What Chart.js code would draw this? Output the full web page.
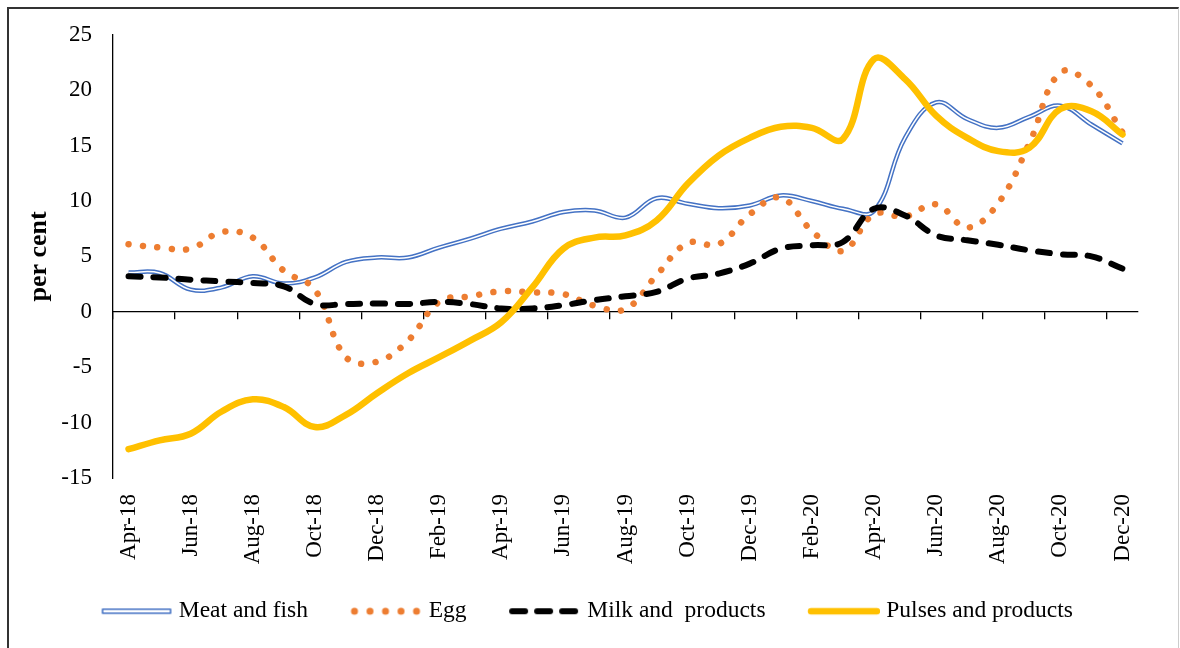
<!DOCTYPE html>
<html>
<head>
<meta charset="utf-8">
<script src="https://cdn.jsdelivr.net/npm/chart.js@4.4.1/dist/chart.umd.min.js"></script>
<style>
  body { margin: 0; background: #fff; overflow: hidden; }
  #wrap { position: relative; width: 1180px; height: 648px; }
  #frame { position: absolute; left: 7px; top: 7px; width: 1169px; height: 700px;
           border-top: 2px solid #333; border-left: 2px solid #333; border-right: 1px solid #ccc;
           pointer-events: none; }
</style>
</head>
<body>
<div id="wrap">
  <canvas id="chart" width="1180" height="648"></canvas>
  <div id="frame"></div>
</div>
<script>
const months = ['Apr-18','May-18','Jun-18','Jul-18','Aug-18','Sep-18','Oct-18','Nov-18','Dec-18',
  'Jan-19','Feb-19','Mar-19','Apr-19','May-19','Jun-19','Jul-19','Aug-19','Sep-19','Oct-19','Nov-19','Dec-19',
  'Jan-20','Feb-20','Mar-20','Apr-20','May-20','Jun-20','Jul-20','Aug-20','Sep-20','Oct-20','Nov-20','Dec-20'];

const meatFish = [3.55, 3.5, 2.0, 2.2, 3.2, 2.55, 3.1, 4.5, 4.9, 4.9, 5.8, 6.6, 7.5, 8.15, 9.0, 9.15, 8.5,
  10.25, 9.75, 9.35, 9.6, 10.5, 10.0, 9.3, 9.1, 15.7, 18.9, 17.4, 16.6, 17.6, 18.6, 16.9, 15.2];
const egg = [6.1, 5.8, 5.7, 7.2, 6.7, 3.7, 2.0, -4.1, -4.5, -2.6, 0.9, 1.4, 1.85, 1.75, 1.6, 0.55, 0.25,
  3.3, 6.2, 6.1, 8.8, 10.3, 7.3, 5.5, 8.8, 8.6, 9.7, 7.6, 9.8, 15.2, 21.6, 20.4, 16.2];
const milk = [3.2, 3.1, 2.9, 2.75, 2.6, 2.3, 0.7, 0.7, 0.75, 0.7, 0.9, 0.7, 0.3, 0.3, 0.6, 1.05, 1.4,
  1.8, 3.0, 3.45, 4.35, 5.7, 6.0, 6.3, 9.3, 8.7, 6.9, 6.45, 6.05, 5.55, 5.2, 5.0, 3.9];
const pulses = [-12.4, -11.6, -11.0, -9.0, -7.9, -8.6, -10.4, -9.3, -7.35, -5.55, -4.1, -2.6, -0.95,
  2.2, 5.7, 6.7, 6.9, 8.25, 11.55, 14.1, 15.7, 16.7, 16.6, 15.6, 22.8, 21.0, 17.7, 15.7, 14.5, 14.8, 18.3, 18.1, 16.0];

const seriesNames = ['Meat and fish', 'Egg', 'Milk and  products', 'Pulses and products'];
const yTicks = { min: -15, max: 25, step: 5 };

const BLUE = '#4472C4', ORANGE = '#ED7D31', YELLOW = '#FFC000', BLACK = '#000';
const FONT = 'Liberation Serif, Times New Roman, serif';

// little canvases used as legend samples (drawn shifted right so the text sits closer)
function sample(draw) {
  const c = document.createElement('canvas');
  c.width = 100; c.height = 14;
  const g = c.getContext('2d');
  g.lineCap = 'round';
  g.translate(28, 0);
  draw(g);
  return c;
}
const legendSamples = [
  sample(g => { g.fillStyle = '#fff'; g.strokeStyle = BLUE; g.lineWidth = 1.6; g.lineJoin = 'round';
                g.beginPath(); g.rect(2, 5, 68, 4); g.fill(); g.stroke(); }),
  sample(g => { g.strokeStyle = ORANGE; g.lineWidth = 7; g.setLineDash([0.01, 15.5]);
                g.beginPath(); g.moveTo(4, 7); g.lineTo(70, 7); g.stroke(); }),
  sample(g => { g.strokeStyle = BLACK; g.lineWidth = 6; g.setLineDash([13, 12]);
                g.beginPath(); g.moveTo(3, 7); g.lineTo(69, 7); g.stroke(); }),
  sample(g => { g.strokeStyle = YELLOW; g.lineWidth = 6.5;
                g.beginPath(); g.moveTo(3, 7); g.lineTo(69, 7); g.stroke(); })
];

const common = { pointRadius: 0, pointHoverRadius: 0, tension: 0.4, fill: false };

new Chart(document.getElementById('chart'), {
  type: 'line',
  data: {
    labels: months,
    datasets: [
      { ...common, label: seriesNames[0], data: meatFish, borderColor: BLUE, borderWidth: 4.5, order: 5 },
      { ...common, label: 'inner', data: meatFish, borderColor: '#fff', borderWidth: 1.5, order: 4 },
      { ...common, label: seriesNames[1], data: egg, borderColor: ORANGE, borderWidth: 6.5,
        borderDash: [0.01, 14.5], borderCapStyle: 'round', order: 3 },
      { ...common, label: seriesNames[2], data: milk, borderColor: BLACK, borderWidth: 6,
        borderDash: [12, 13], borderCapStyle: 'round', order: 2 },
      { ...common, label: seriesNames[3], data: pulses, borderColor: YELLOW, borderWidth: 6.5,
        borderCapStyle: 'round', borderJoinStyle: 'round', order: 1 }
    ]
  },
  options: {
    responsive: false,
    animation: false,
    layout: { padding: { left: 0, right: 29, top: 34, bottom: 15 } },
    scales: {
      x: {
        type: 'category',
        position: { y: 0 },
        offset: true,
        ticks: { display: false },
        grid: {
          offset: true, drawOnChartArea: false, drawTicks: true, tickLength: 7, lineWidth: 1.3,
          color: ctx => ctx.index % 2 === 0 ? BLACK : 'rgba(0,0,0,0)'
        },
        border: { display: true, color: BLACK, width: 1.3 }
      },
      x2: {
        type: 'category',
        position: 'bottom',
        offset: true,
        grid: { display: false, drawTicks: false },
        border: { display: false },
        ticks: {
          autoSkip: false, maxRotation: 90, minRotation: 90, padding: 16,
          color: BLACK, font: { family: FONT, size: 23 },
          callback: (v, i) => i % 2 === 0 ? months[i] : null
        },
        afterFit: s => { s.height = 101.5; }
      },
      y: {
        min: yTicks.min, max: yTicks.max,
        ticks: { stepSize: yTicks.step, padding: 21, color: BLACK, font: { family: FONT, size: 23 } },
        grid: { display: false, drawTicks: false },
        border: { display: true, color: BLACK, width: 1.3 },
        title: { display: true, text: 'per cent', color: BLACK, padding: { top: 24, bottom: 0 },
                 font: { family: FONT, size: 26, weight: 'bold' } },
        afterFit: s => { s.width = 113; }
      },
      yPad: {
        type: 'linear', position: 'right', display: true,
        grid: { display: false }, border: { display: false }, ticks: { display: false },
        afterFit: s => { s.width = 13; }
      }
    },
    plugins: {
      tooltip: { enabled: false },
      legend: {
        position: 'bottom',
        labels: {
          usePointStyle: true, pointStyleWidth: 89, padding: 20,
          color: BLACK, font: { family: FONT, size: 23.5 },
          generateLabels: () => seriesNames.map((n, i) => ({
            text: n, pointStyle: legendSamples[i], datasetIndex: i === 0 ? 0 : i + 1,
            hidden: false, fontColor: BLACK, lineWidth: 0,
            strokeStyle: 'rgba(0,0,0,0)', fillStyle: 'rgba(0,0,0,0)'
          }))
        }
      }
    }
  }
});
</script>
</body>
</html>
